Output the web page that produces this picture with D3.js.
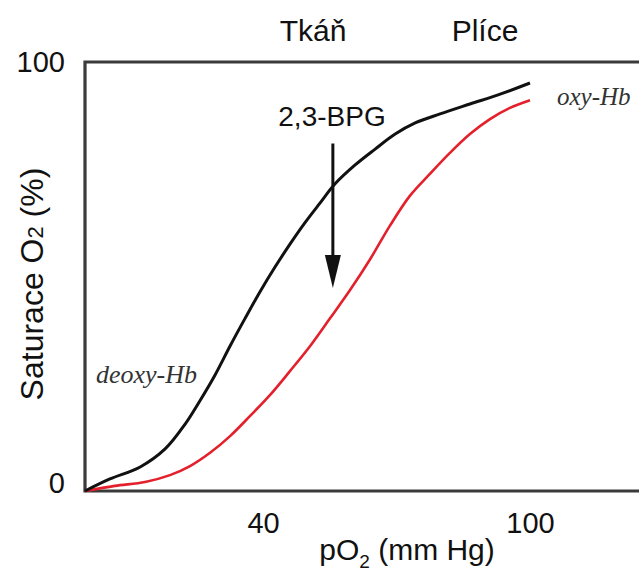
<!DOCTYPE html>
<html>
<head>
<meta charset="utf-8">
<script src="https://cdn.jsdelivr.net/npm/d3@7/dist/d3.min.js"></script>
<style>
  html, body { margin: 0; padding: 0; background: #fff; }
  svg { display: block; }
  .lbl { font-family: "Liberation Sans", Arial, sans-serif; fill: #111; }
  .hb { font-family: "Liberation Serif", "Times New Roman", serif; font-style: italic; fill: #333; }
</style>
</head>
<body>
<svg id="chart" width="639" height="573"></svg>
<script>
// Oxygen dissociation curves of haemoglobin (pO2 in mm Hg vs. O2 saturation in %)
const pO2Black = [0, 5.6, 12.4, 18, 22.5, 25.8, 29.2, 32.6, 36, 39.3, 42.7, 46.1, 49.4, 52.8, 56.2, 60.7, 65.2, 69.7, 74.2, 79.8, 86.5, 93.3, 100];
const satBlack = [0, 2.8, 5.6, 9.8, 15.6, 21, 27, 33.8, 40.3, 46.4, 52.2, 57.6, 62.5, 67.1, 71.6, 76, 79.7, 83.2, 85.8, 87.9, 90.2, 92.5, 95.1];

// With 2,3-BPG bound: curve shifted to the right
const pO2Red = [0, 6.7, 13.5, 19.1, 23.6, 28.1, 32.6, 37.1, 41.6, 46.1, 50.6, 55.1, 59.6, 64, 68.5, 73, 77.5, 82, 86.5, 91, 95.5, 100];
const satRed = [0, 1.2, 2.1, 3.7, 5.8, 8.9, 12.8, 17.5, 22.4, 28, 33.8, 40.3, 46.9, 53.9, 61.8, 68.8, 73.9, 78.8, 83.2, 86.7, 89.3, 91.1];

const xTicks = [40, 100];
const yTicks = [0, 100];

// Arrow showing the shift caused by 2,3-BPG (pO2, saturation from -> to)
const arrowP = 55.7;
const arrowSat = [81, 47.3];

(function draw() {
  const svg = d3.select("#chart");
  const W = 639;
  const mLeft = 85, mTop = 62, mBottom = 491;

  const x = d3.scaleLinear().domain([0, 100]).range([mLeft, 530]);
  const y = d3.scaleLinear().domain([0, 100]).range([mBottom, mTop]);

  // Frame: left, top and bottom lines
  svg.append("path")
    .attr("d", `M${W},${mTop}H${mLeft}V${mBottom}H${W}`)
    .attr("fill", "none")
    .attr("stroke", "#3a3a3a")
    .attr("stroke-width", 3.2);

  // Axes (labels only)
  const xAxis = svg.append("g")
    .attr("transform", `translate(0,${mBottom})`)
    .call(d3.axisBottom(x).tickValues(xTicks).tickSize(0).tickPadding(21));
  const yAxis = svg.append("g")
    .attr("transform", `translate(${mLeft},0)`)
    .call(d3.axisLeft(y).tickValues(yTicks).tickSize(0).tickPadding(20));
  [xAxis, yAxis].forEach(g => {
    g.select(".domain").remove();
    g.selectAll("text")
      .attr("class", "lbl")
      .style("font-size", "29px")
      .attr("fill", "#222");
  });
  yAxis.selectAll(".tick text").filter(d => d === 0).attr("y", -8);

  const line = d3.line().curve(d3.curveCatmullRom.alpha(0.5));

  svg.append("path")
    .attr("d", line(pO2Red.map((p, i) => [x(p), y(satRed[i])])))
    .attr("fill", "none")
    .attr("stroke", "#e3202b")
    .attr("stroke-width", 2.6);

  svg.append("path")
    .attr("d", line(pO2Black.map((p, i) => [x(p), y(satBlack[i])])))
    .attr("fill", "none")
    .attr("stroke", "#111")
    .attr("stroke-width", 3);

  // Arrow
  const ax = x(arrowP), ay0 = y(arrowSat[0]), ay1 = y(arrowSat[1]);
  const headLen = 33, headHalf = 8;
  svg.append("line")
    .attr("x1", ax).attr("x2", ax)
    .attr("y1", ay0).attr("y2", ay1 - headLen + 2)
    .attr("stroke", "#111").attr("stroke-width", 3);
  svg.append("path")
    .attr("d", `M${ax - headHalf},${ay1 - headLen}L${ax + headHalf},${ay1 - headLen}L${ax},${ay1}Z`)
    .attr("fill", "#111");

  // Text labels
  svg.append("text").attr("class", "lbl")
    .attr("x", 313).attr("y", 41).attr("text-anchor", "middle")
    .style("font-size", "30px").text("Tkáň");
  svg.append("text").attr("class", "lbl")
    .attr("x", 485).attr("y", 41).attr("text-anchor", "middle")
    .style("font-size", "30px").text("Plíce");
  svg.append("text").attr("class", "lbl")
    .attr("x", 332).attr("y", 126).attr("text-anchor", "middle")
    .style("font-size", "28px").text("2,3-BPG");

  svg.append("text").attr("class", "hb")
    .attr("x", 96).attr("y", 383)
    .style("font-size", "26px").text("deoxy-Hb");
  svg.append("text").attr("class", "hb")
    .attr("x", 557).attr("y", 105)
    .style("font-size", "25px").text("oxy-Hb");

  // Axis titles
  const xt = svg.append("text").attr("class", "lbl")
    .attr("x", 407).attr("y", 560).attr("text-anchor", "middle")
    .style("font-size", "30px");
  xt.append("tspan").text("pO");
  xt.append("tspan").attr("dy", 8).style("font-size", "19px").text("2");
  xt.append("tspan").attr("dy", -8).text(" (mm Hg)");

  const yt = svg.append("text").attr("class", "lbl")
    .attr("transform", "translate(43,284) rotate(-90)")
    .attr("text-anchor", "middle")
    .style("font-size", "32px");
  yt.append("tspan").text("Saturace O");
  yt.append("tspan").style("font-size", "22px").text("2");
  yt.append("tspan").text(" (%)");
})();
</script>
</body>
</html>
